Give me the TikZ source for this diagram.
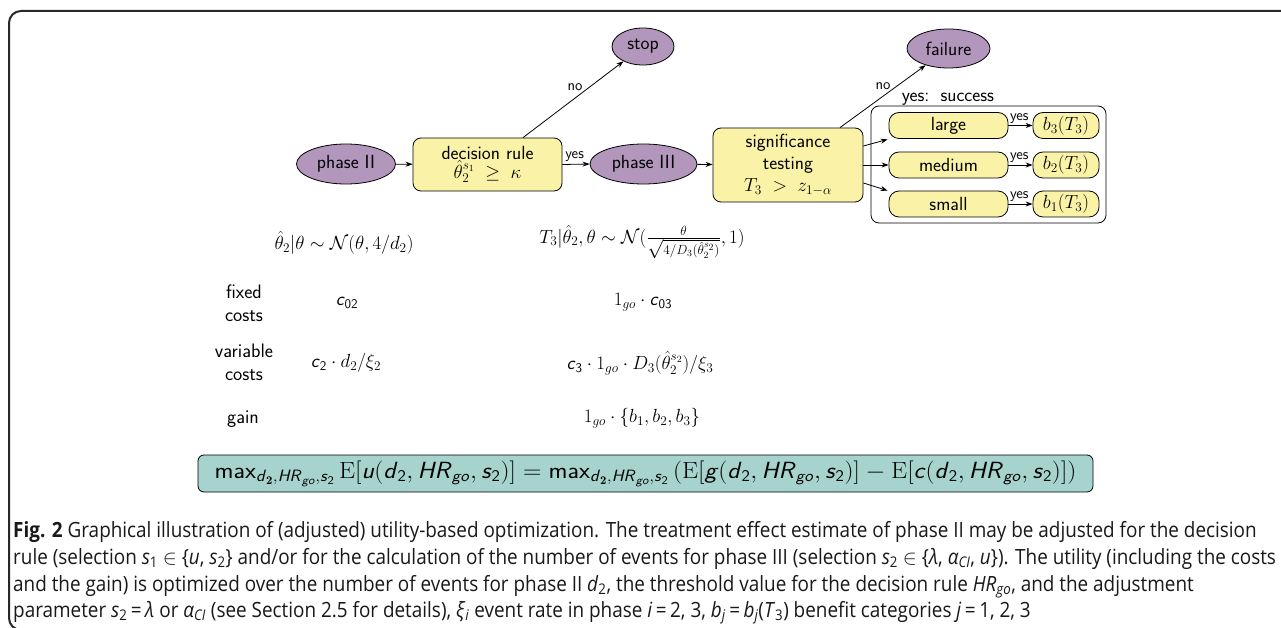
\RequirePackage{fix-cm}
\documentclass[tikz,border=0pt]{standalone}
\usepackage{amsmath}
\usepackage{graphicx}
\usepackage{fontspec}
\newfontfamily\capfont[FakeStretch=0.9]{Open Sans}
\usetikzlibrary{shapes.geometric,arrows.meta,calc}
\definecolor{ellfill}{RGB}{179,150,188}
\definecolor{boxfill}{RGB}{250,243,167}
\definecolor{tealfill}{RGB}{166,211,206}
\definecolor{framecol}{RGB}{40,40,40}
\newcommand\sit[1]{\textsf{\textit{#1}}}
\begin{document}
\begin{tikzpicture}[x=1pt,y=-1pt,
  every node/.style={font=\sffamily\fontsize{19}{22}\selectfont, inner sep=0pt},
  ell/.style={ellipse, draw=black, line width=0.8pt, fill=ellfill},
  rbox/.style={draw=black, line width=0.8pt, fill=boxfill, rounded corners=8pt, align=center},
  pill/.style={draw=black, line width=0.8pt, fill=boxfill, rounded corners=10pt, minimum height=26pt},
  arr/.style={line width=0.8pt, -{Stealth[length=7pt,width=5pt]}},
  lbl/.style={font=\sffamily\fontsize{15}{17}\selectfont},
  capline/.style={anchor=base west, font=\capfont\fontsize{21}{24}\selectfont, text=black!90},
  mathtxt/.style={font=\fontsize{19}{22}\selectfont},
  rowlbl/.style={align=center, font=\sffamily\fontsize{19.5}{22}\selectfont}
]
\useasboundingbox (0,0) rectangle (1281,628);
\fill[white] (0,0) rectangle (1281,628);
% frame
\draw[line width=2pt, framecol, rounded corners=12pt] (1300,630) -- (9,630) -- (9,11) -- (1300,11);

% flow nodes
\node[ell, minimum width=99pt, minimum height=40pt] (p2) at (346,164) {phase II};
\node[rbox, minimum width=149pt, minimum height=53pt] (dr) at (487.5,164.5) {decision rule\\[-3pt] $\hat{\theta}_2^{s_1}\;\ge\;\kappa$};
\node[ell, minimum width=62pt, minimum height=37pt] (stop) at (643,46.5) {stop};
\node[ell, minimum width=107pt, minimum height=40pt] (p3) at (643.5,164) {phase III};
\node[rbox, minimum width=150pt, minimum height=74pt] (sig) at (788,165) {significance\\ testing\\ $T_3\;>\;z_{1-\alpha}$};
\node[ell, minimum width=83pt, minimum height=39pt] (fail) at (948.5,48.5) {failure};
\node[draw=black, line width=0.8pt, rounded corners=8pt, minimum width=235pt, minimum height=117pt] (grp) at (988.5,164.5) {};
\node[anchor=base] (succ) at (948,101.5) {yes:\, success};
\node[pill, minimum width=119pt] (large) at (948.5,125.5) {large};
\node[pill, minimum width=119pt] (medium) at (948.5,165) {medium};
\node[pill, minimum width=119pt] (small) at (948.5,204) {small};
\node[pill, minimum width=66pt] (b3) at (1066,125.5) {$b_3(T_3)$};
\node[pill, minimum width=66pt] (b2) at (1066,165) {$b_2(T_3)$};
\node[pill, minimum width=66pt] (b1) at (1066,204) {$b_1(T_3)$};

% connectors
\draw[arr] (p2) -- (dr);
\draw[arr] (dr.east) -- node[lbl, above=2pt, pos=0.45] {yes} (p3.west);
\coordinate (drn) at ($(dr.north)+(35.5,0)$);
\draw[arr] (drn) -- node[lbl, pos=0.6, anchor=south east, inner sep=0.5pt] {no} (stop);
\draw[arr] (p3) -- (sig);
\coordinate (sign) at ($(sig.north)+(52,0)$);
\draw[arr] (sign) -- node[lbl, pos=0.6, anchor=south east, inner sep=0.5pt] {no} (fail);
\coordinate (sigA) at ($(sig.east)+(0,-19)$);
\coordinate (sigC) at ($(sig.east)+(0,18)$);
\coordinate (lgA) at ($(large.south west)+(-1,0.5)$);
\coordinate (smC) at ($(small.north west)+(-1,0)$);
\draw[arr] (sigA) -- (lgA);
\draw[arr] (sig.east) -- (medium.west);
\draw[arr] (sigC) -- (smC);
\draw[arr] (large) -- node[lbl, above=2pt, pos=0.45] {yes} (b3);
\draw[arr] (medium) -- node[lbl, above=2pt, pos=0.45] {yes} (b2);
\draw[arr] (small) -- node[lbl, above=2pt, pos=0.45] {yes} (b1);

% lower annotations
\node[mathtxt] (m2) at (344,243) {$\hat{\theta}_2|\theta\sim\mathcal{N}(\theta,4/d_2)$};
\node[mathtxt] (m3) at (642,242) {$T_3|\hat{\theta}_2,\theta\sim\mathcal{N}(\frac{\theta}{\sqrt{4/D_3(\hat{\theta}_2^{s_2})}},1)$};
\node[rowlbl] (fixed) at (244,303) {fixed\\[1pt] costs};
\node[rowlbl] (var) at (244,362) {variable\\[1pt] costs};
\node[rowlbl] (gain) at (243,419) {gain};
\node[mathtxt] (c02) at (347,303) {$\sit{c}_{\textsf{02}}$};
\node[mathtxt] (c03) at (643,302) {$1_{go}\cdot\sit{c}_{\textsf{03}}$};
\node[mathtxt] (v2) at (346,363) {$\sit{c}_{\textsf{2}}\cdot d_2/\xi_2$};
\node[mathtxt] (v3) at (640,363) {$\sit{c}_{\textsf{3}}\cdot 1_{go}\cdot D_3(\hat{\theta}_2^{s_2})/\xi_3$};
\node[mathtxt] (g3) at (642,418) {$1_{go}\cdot\{b_1,b_2,b_3\}$};

% utility formula
\node[draw=black, line width=0.8pt, fill=tealfill, rounded corners=6pt, minimum width=895pt, minimum height=37pt, font=\fontsize{23.4}{26}\selectfont] (util) at (645.5,473.5)
{\scalebox{1.09}[1]{$\textsf{max}_{\sit{d}_{\mathsf{\mathbf{2}}},\sit{HR}_{\sit{go}},\sit{s}_{\textsf{2}}}\,\mathrm{E}[\sit{u}(\sit{d}_{\textsf{2}},\sit{HR}_{\sit{go}},\sit{s}_{\textsf{2}})]=\textsf{max}_{\sit{d}_{\mathsf{\mathbf{2}}},\sit{HR}_{\sit{go}},\sit{s}_{\textsf{2}}}\,(\mathrm{E}[\sit{g}(\sit{d}_{\textsf{2}},\sit{HR}_{\sit{go}},\sit{s}_{\textsf{2}})]-\mathrm{E}[\sit{c}(\sit{d}_{\textsf{2}},\sit{HR}_{\sit{go}},\sit{s}_{\textsf{2}})])$}};

% caption
\node[capline] (cap1) at (13,537) {\textbf{Fig. 2} Graphical illustration of (adjusted) utility-based optimization. The treatment effect estimate of phase II may be adjusted for the decision};
\node[capline] (cap2) at (13,564) {rule (selection \textit{s}\textsubscript{1} $\in$ \{\textit{u}, \textit{s}\textsubscript{2}\} and/or for the calculation of the number of events for phase III (selection \textit{s}\textsubscript{2} $\in$ \{\textit{λ}, \textit{α}\textsubscript{\textit{CI}}, \textit{u}\}). The utility (including the costs};
\node[capline] (cap3) at (13,591) {and the gain) is optimized over the number of events for phase II \textit{d}\textsubscript{2}, the threshold value for the decision rule \textit{HR}\textsubscript{\textit{go}}, and the adjustment};
\node[capline] (cap4) at (13,617) {parameter \textit{s}\textsubscript{2}\,=\,\textit{λ} or \textit{α}\textsubscript{\textit{CI}} (see Section 2.5 for details), \textit{ξ}\textsubscript{\textit{i}} event rate in phase \textit{i}\,=\,2, 3, \textit{b}\textsubscript{\textit{j}}\,=\,\textit{b}\textsubscript{\textit{j}}(\textit{T}\textsubscript{3}) benefit categories \textit{j}\,=\,1, 2, 3};
\end{tikzpicture}
\end{document}
